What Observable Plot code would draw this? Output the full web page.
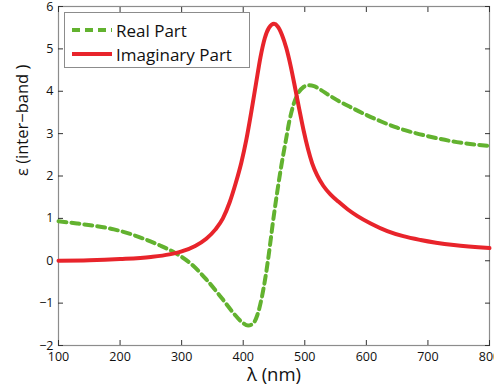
<!DOCTYPE html>
<html>
<head>
<meta charset="utf-8">
<script src="https://cdn.jsdelivr.net/npm/d3@7"></script>
<script src="https://cdn.jsdelivr.net/npm/@observablehq/plot@0.6"></script>
<style>
  html, body { margin: 0; padding: 0; background: #fff; }
  #wrap { position: relative; width: 494px; height: 391px; font-family: "Open Sans", sans-serif; }
  #legend { position: absolute; left: 64px; top: 12px; width: 186px; height: 56px; border: 1px solid #8c8c8c; background: #fff; box-sizing: border-box; }
  .row { position: absolute; left: 7px; height: 20px; display: flex; align-items: center; font-size: 17px; color: #111; white-space: nowrap; }
  .row svg { margin-right: 4px; }
</style>
</head>
<body>
<div id="wrap"></div>
<script>
const realX = [100,130,160,190,215,240,265,290,315,340,365,385,398,408,416,423,430,436,442,448,455,462,469,475,482,490,498,506,515,525,540,555,575,600,625,650,675,700,747,800];
const realY = [0.93,0.88,0.82,0.74,0.64,0.51,0.36,0.18,-0.07,-0.44,-0.88,-1.25,-1.45,-1.53,-1.48,-1.28,-0.88,-0.4,0.2,0.88,1.6,2.25,2.82,3.3,3.7,3.97,4.1,4.14,4.12,4.04,3.9,3.77,3.62,3.44,3.28,3.14,3.03,2.94,2.8,2.71];
const imagX = [100,150,200,250,280,300,322,340,355,367,378,388,397,405,413,421,428,435,442,450,456,463,470,477,484,491,498,505,512,520,530,542,555,570,585,607,634,660,688,742,800];
const imagY = [0.0,0.01,0.04,0.09,0.15,0.22,0.35,0.52,0.74,1.0,1.38,1.84,2.32,2.85,3.5,4.2,4.8,5.25,5.5,5.59,5.53,5.33,5.02,4.6,4.1,3.58,3.08,2.65,2.3,2.02,1.77,1.56,1.39,1.21,1.06,0.88,0.7,0.58,0.49,0.37,0.3];
const xTicks = [100,200,300,400,500,600,700,800];
const yTicks = [-2,-1,0,1,2,3,4,5,6];
const seriesNames = ["Real Part", "Imaginary Part"];
const colors = ["#62b22f", "#e8242b"];
const xLabel = "λ (nm)";
const yLabel = "ε (inter−band )";

const real = realX.map((x, i) => ({x, y: realY[i]}));
const imag = imagX.map((x, i) => ({x, y: imagY[i]}));
const fmt = d => d < 0 ? "−" + Math.abs(d) : String(d);

const chart = Plot.plot({
  width: 494,
  height: 391,
  marginLeft: 58,
  marginRight: 5,
  marginTop: 6,
  marginBottom: 46,
  style: {fontFamily: "'Open Sans', sans-serif", fontSize: "12px", background: "#fff", color: "#111", overflow: "visible"},
  x: {domain: [100, 800]},
  y: {domain: [-2, 6]},
  marks: [
    Plot.frame({stroke: "#8c8c8c", strokeWidth: 1.2}),
    Plot.axisX(xTicks, {anchor: "bottom", tickSize: -5, tickPadding: 12, tickFormat: fmt, label: null, fontSize: 12.5, stroke: "#333"}),
    Plot.axisX(xTicks, {anchor: "top", tickSize: -5, tickFormat: () => "", label: null, stroke: "#333"}),
    Plot.axisY(yTicks, {anchor: "left", tickSize: -5, tickPadding: 10, tickFormat: fmt, label: null, fontSize: 12.5, stroke: "#333"}),
    Plot.axisY(yTicks, {anchor: "right", tickSize: -5, tickFormat: () => "", label: null, stroke: "#333"}),
    Plot.line(real, {x: "x", y: "y", stroke: colors[0], strokeWidth: 4, strokeDasharray: "8,5", curve: "monotone-x"}),
    Plot.line(imag, {x: "x", y: "y", stroke: colors[1], strokeWidth: 4, curve: "monotone-x"}),
    Plot.text([xLabel], {frameAnchor: "bottom", dy: 35, fontSize: 18.5, fill: "#111"}),
    Plot.text([yLabel], {frameAnchor: "left", dx: -36, rotate: -90, fontSize: 16.5, fill: "#111"})
  ]
});
const wrap = document.getElementById("wrap");
wrap.appendChild(chart);

const legend = document.createElement("div");
legend.id = "legend";
seriesNames.forEach((name, i) => {
  const row = document.createElement("div");
  row.className = "row";
  row.style.top = (i === 0 ? 7 : 31) + "px";
  const dash = i === 0 ? 'stroke-dasharray="8,5"' : "";
  row.innerHTML = `<svg width="40" height="8"><line x1="0" y1="4" x2="40" y2="4" stroke="${colors[i]}" stroke-width="4" ${dash}/></svg><span>${name}</span>`;
  legend.appendChild(row);
});
wrap.appendChild(legend);
</script>
</body>
</html>
